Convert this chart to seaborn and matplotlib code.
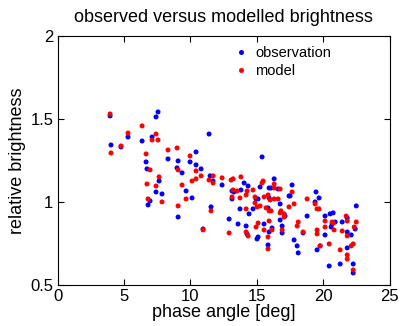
import matplotlib
matplotlib.use("Agg")
import pandas as pd
import matplotlib.pyplot as plt
import seaborn as sns

# observed brightness vs phase angle
obs_x = [3.95, 7.56, 7.41, 5.30, 7.11, 6.36, 4.02, 4.77, 6.66, 6.73, 7.64, 7.41, 7.86, 6.96, 6.81,
         8.31, 9.07, 8.99, 9.07, 11.40, 10.42, 9.97, 10.42, 10.80, 9.37, 11.48, 11.70, 15.39, 16.30,
         12.38, 14.04, 14.34, 13.13, 13.28, 13.80, 15.24, 15.92, 16.07, 16.60, 9.67, 10.12, 13.13,
         14.94, 15.09, 15.92, 17.42, 11.55, 13.73, 14.71, 15.84, 16.75, 17.12, 14.41, 12.91, 13.58,
         10.95, 14.19, 14.26, 15.54, 16.14, 15.92, 15.09, 15.01, 16.75, 16.90, 16.90, 15.84, 17.65,
         17.50, 18.78, 19.45, 19.68, 19.38, 17.80, 18.03, 18.11, 18.48, 19.53, 19.76, 20.13, 20.13,
         20.44, 20.51, 20.74, 20.66, 20.59, 20.89, 21.42, 21.27, 21.80, 21.80, 22.10, 22.40, 22.48,
         21.80, 22.25, 22.25]
obs_y = [1.520, 1.544, 1.514, 1.393, 1.393, 1.369, 1.345, 1.333, 1.243, 1.201, 1.128, 1.062, 1.050,
         1.008, 0.984, 1.261, 1.249, 1.207, 0.911, 1.411, 1.303, 1.243, 1.225, 1.201, 1.177, 1.159,
         1.128, 1.273, 1.141, 1.104, 1.116, 1.098, 1.068, 1.062, 1.074, 1.092, 1.086, 1.086, 1.080,
         1.068, 1.026, 1.020, 1.020, 1.020, 1.026, 1.038, 0.972, 0.960, 0.960, 0.966, 0.990, 0.917,
         0.930, 0.899, 0.869, 0.839, 0.857, 0.809, 0.869, 0.845, 0.821, 0.791, 0.779, 0.893, 0.857,
         0.815, 0.743, 1.104, 1.038, 0.917, 1.062, 1.026, 1.002, 0.773, 0.737, 0.695, 0.815, 0.713,
         0.737, 0.917, 0.803, 0.616, 0.930, 0.936, 0.869, 0.851, 0.881, 0.881, 0.628, 0.905, 0.821,
         0.803, 0.839, 0.978, 0.725, 0.628, 0.574]

# modelled brightness
mod_x = [3.95, 6.36, 5.30, 7.41, 7.11, 7.56, 4.77, 4.02, 6.66, 8.31, 8.99, 6.96, 9.07, 7.64, 6.73,
         7.41, 6.81, 7.86, 9.07, 9.97, 10.42, 11.70, 10.80, 10.42, 11.40, 10.12, 11.70, 12.38, 13.06,
         13.21, 13.80, 15.47, 15.39, 16.30, 9.37, 13.21, 13.51, 14.26, 14.71, 16.30, 9.67, 13.13,
         13.73, 14.19, 14.86, 15.54, 15.84, 15.99, 16.30, 16.60, 14.86, 11.55, 14.19, 15.01, 15.24,
         15.69, 15.92, 16.07, 16.75, 17.05, 17.42, 12.91, 10.95, 14.19, 14.34, 14.94, 15.09, 15.54,
         15.92, 16.14, 15.84, 16.90, 15.84, 17.65, 17.80, 16.75, 18.11, 18.03, 18.78, 19.38, 19.53,
         19.68, 18.48, 17.05, 16.82, 19.76, 19.53, 19.53, 20.13, 20.13, 20.44, 20.66, 20.74, 20.81,
         21.27, 21.42, 21.72, 21.80, 21.80, 22.33, 22.48, 22.10, 22.25, 21.80, 21.80, 22.25]
mod_y = [1.532, 1.460, 1.417, 1.411, 1.375, 1.375, 1.339, 1.297, 1.291, 1.315, 1.327, 1.195, 1.195,
         1.153, 1.110, 1.098, 1.020, 1.002, 0.978, 1.279, 1.189, 1.159, 1.159, 1.141, 1.134, 1.128,
         1.116, 1.147, 1.134, 1.141, 1.153, 1.128, 1.116, 1.110, 1.104, 1.074, 1.068, 1.068, 1.074,
         1.086, 1.020, 1.032, 1.026, 1.044, 1.032, 1.032, 1.044, 1.014, 1.020, 1.020, 0.996, 0.948,
         0.960, 0.972, 0.978, 0.966, 0.948, 0.948, 0.936, 0.930, 0.972, 0.815, 0.833, 0.821, 0.797,
         0.851, 0.875, 0.833, 0.887, 0.833, 0.791, 0.833, 0.719, 1.062, 0.990, 1.080, 0.881, 0.857,
         1.020, 0.990, 0.960, 0.960, 0.821, 0.911, 0.948, 0.737, 0.833, 0.809, 0.887, 0.851, 0.749,
         0.881, 0.875, 0.833, 0.713, 0.827, 0.917, 0.887, 0.797, 0.851, 0.881, 0.737, 0.749, 0.683,
         0.658, 0.592]

df = pd.concat([
    pd.DataFrame({"phase": obs_x, "brightness": obs_y, "kind": "observation"}),
    pd.DataFrame({"phase": mod_x, "brightness": mod_y, "kind": "model"}),
], ignore_index=True)

sns.set_style("ticks")
plt.rcParams["font.family"] = ["Liberation Sans", "DejaVu Sans"]
plt.rcParams["text.color"] = "black"
plt.rcParams["axes.labelcolor"] = "black"

fig = plt.figure(figsize=(4.01, 3.26), dpi=100)
ax = fig.add_axes([0.1436, 0.125, 0.8283, 0.7638])

sns.scatterplot(data=df, x="phase", y="brightness", hue="kind",
                palette={"observation": "#0000ff", "model": "#ff0000"},
                s=13, linewidth=0, ax=ax)

ax.set_xlim(0, 25)
ax.set_ylim(0.5, 2)
ax.set_xticks([0, 5, 10, 15, 20, 25])
ax.set_yticks([0.5, 1, 1.5, 2])
ax.set_yticklabels(["0.5", "1", "1.5", "2"])
ax.tick_params(direction="in", top=True, right=True, length=4, width=0.8,
               labelsize=12, colors="black", pad=3)
for sp in ax.spines.values():
    sp.set_visible(True)
    sp.set_linewidth(0.8)
    sp.set_color("black")

ax.set_title("observed versus modelled brightness", fontsize=13, pad=10, color="black")
ax.set_xlabel("phase angle [deg]", fontsize=13, labelpad=0)
ax.set_ylabel("relative brightness", fontsize=13, labelpad=3)

leg = ax.legend(loc="upper left", bbox_to_anchor=(0.49, 1.0), frameon=False,
                handletextpad=0.2, labelspacing=0.25, fontsize=10.5,
                handlelength=1.5, borderaxespad=0.3)
for t in leg.get_texts():
    t.set_color("black")

fig.savefig("out.png", dpi=100)
